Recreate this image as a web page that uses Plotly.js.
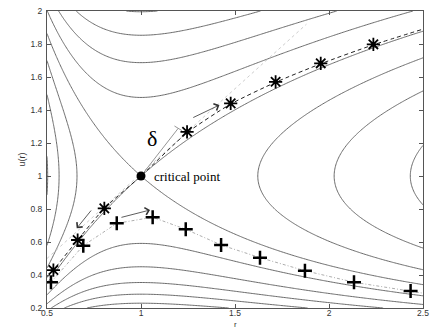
<!DOCTYPE html>
<html>
<head>
<meta charset="utf-8">
<script src="https://cdn.plot.ly/plotly-3.0.1.min.js"></script>
<style>
  html, body { margin: 0; padding: 0; background: #fff; }
  #chart { width: 431px; height: 330px; }
</style>
</head>
<body>
<div id="chart"></div>
<script>
// ---- data ----
// contour levels of the Parker-type integral F(r,u) = u^2 - ln(u^2) - 4 ln r - 4/r
const contourStart = -4.2;
const contourEnd = -0.6;
const contourStep = 0.4;

// asterisk (transonic) solution points
const starR = [0.534, 0.663, 0.805, 1.245, 1.477, 1.716, 1.956, 2.236];
const starU = [0.430, 0.612, 0.804, 1.268, 1.440, 1.571, 1.683, 1.798];

// dashed line through the asterisks
const dashR = [0.50, 0.534, 0.663, 0.805, 1.00, 1.245, 1.477, 1.716, 1.956, 2.236, 2.50];
const dashU = [0.385, 0.430, 0.612, 0.804, 1.00, 1.262, 1.436, 1.568, 1.680, 1.795, 1.890];

// plus-marker solution points (dash-dot line)
const plusR = [0.521, 0.693, 0.871, 1.062, 1.238, 1.426, 1.633, 1.872, 2.133, 2.434];
const plusU = [0.356, 0.578, 0.713, 0.750, 0.677, 0.582, 0.505, 0.426, 0.356, 0.303];
const plusLineR = [0.521, 0.693, 0.871, 1.062, 1.238, 1.426, 1.633, 1.872, 2.133, 2.434, 2.50];
const plusLineU = [0.356, 0.578, 0.713, 0.750, 0.677, 0.582, 0.505, 0.426, 0.356, 0.303, 0.290];

// dotted tangent line through the critical point
const tangentR = [0.50, 1.88];
const tangentU = [0.50, 1.92];

// delta segment and its end tick
const deltaR = [1.00, 1.198];
const deltaU = [1.00, 1.289];
const deltaTickR = [1.178, 1.218];
const deltaTickU = [1.303, 1.275];

// critical point
const critR = [1.0];
const critU = [1.0];

// arrows: tail and head positions
const arrowTailR = [1.270, 0.741, 0.888];
const arrowTailU = [1.350, 0.800, 0.747];
const arrowHeadR = [1.417, 0.658, 1.048];
const arrowHeadU = [1.430, 0.683, 0.794];

// labels
const deltaLabel = 'δ';
const deltaLabelPos = [1.057, 1.228];
const critLabel = 'critical point';
const critLabelPos = [1.06, 0.995];
const xTitle = 'r';
const yTitle = 'u(r)';

const xTicks = [0.5, 1, 1.5, 2, 2.5];
const yTicks = [0.2, 0.4, 0.6, 0.8, 1, 1.2, 1.4, 1.6, 1.8, 2];

// ---- contour field ----
function F(r, u) { return u * u - Math.log(u * u) - 4 * Math.log(r) - 4 / r; }
const nR = 241, nU = 217;
const rGrid = [], uGrid = [], zGrid = [];
for (let i = 0; i < nR; i++) rGrid.push(0.5 + 2.0 * i / (nR - 1));
for (let j = 0; j < nU; j++) uGrid.push(0.2 + 1.8 * j / (nU - 1));
for (let j = 0; j < nU; j++) {
  const row = [];
  for (let i = 0; i < nR; i++) row.push(F(rGrid[i], uGrid[j]));
  zGrid.push(row);
}

const traces = [
  {
    type: 'contour', x: rGrid, y: uGrid, z: zGrid,
    autocontour: false,
    contours: { coloring: 'lines', start: contourStart, end: contourEnd, size: contourStep, showlabels: false },
    colorscale: [[0, '#5a5a5a'], [1, '#5a5a5a']],
    line: { width: 0.9, smoothing: 1 },
    showscale: false, hoverinfo: 'skip'
  },
  { type: 'scatter', mode: 'lines', x: tangentR, y: tangentU,
    line: { color: '#c0c0c0', width: 0.8, dash: 'dot' }, hoverinfo: 'skip' },
  { type: 'scatter', mode: 'lines', x: deltaR, y: deltaU,
    line: { color: '#8a8a8a', width: 0.9 }, hoverinfo: 'skip' },
  { type: 'scatter', mode: 'lines', x: deltaTickR, y: deltaTickU,
    line: { color: '#8a8a8a', width: 0.9 }, hoverinfo: 'skip' },
  { type: 'scatter', mode: 'lines', x: plusLineR, y: plusLineU,
    line: { color: '#999', width: 0.8, dash: '3px,2px,1px,2px' }, hoverinfo: 'skip' },
  { type: 'scatter', mode: 'lines', x: dashR, y: dashU,
    line: { color: '#222', width: 1, dash: '4px,3px', shape: 'spline', smoothing: 0.6 }, hoverinfo: 'skip' },
  { type: 'scatter', mode: 'markers', x: starR, y: starU,
    marker: { symbol: 'asterisk-open', size: 11, color: '#000', line: { color: '#000', width: 1.8 } } },
  { type: 'scatter', mode: 'markers', x: plusR, y: plusU,
    marker: { symbol: 'cross-thin-open', size: 10, color: '#000', line: { color: '#000', width: 2.5 } } },
  { type: 'scatter', mode: 'markers', x: critR, y: critU,
    marker: { symbol: 'circle', size: 9, color: '#000' } }
];

const annotations = [];
for (let k = 0; k < arrowTailR.length; k++) {
  annotations.push({
    x: arrowHeadR[k], y: arrowHeadU[k], ax: arrowTailR[k], ay: arrowTailU[k],
    xref: 'x', yref: 'y', axref: 'x', ayref: 'y',
    text: '', showarrow: true, arrowhead: 4, arrowsize: 1.8, arrowwidth: 0.8, arrowcolor: '#333'
  });
}
annotations.push({
  x: deltaLabelPos[0], y: deltaLabelPos[1], xref: 'x', yref: 'y', text: deltaLabel,
  showarrow: false, font: { family: 'Liberation Serif, serif', size: 22, color: '#000' }
});
annotations.push({
  x: critLabelPos[0], y: critLabelPos[1], xref: 'x', yref: 'y', text: critLabel,
  xanchor: 'left', yanchor: 'middle',
  showarrow: false, font: { family: 'Liberation Serif, serif', size: 13, color: '#000' }
});
// x-axis title placed at the very bottom of the figure, below the tick labels
annotations.push({
  x: 1.5, y: 0, xref: 'x', yref: 'paper', yshift: -22, text: xTitle,
  xanchor: 'center', yanchor: 'bottom', borderpad: 0,
  showarrow: false, font: { family: 'Liberation Sans, Arial, sans-serif', size: 8, color: '#333' }
});

const axisCommon = {
  showgrid: false, zeroline: false, showline: true, mirror: 'ticks',
  linecolor: '#555', linewidth: 1, ticks: 'inside', ticklen: 4, tickcolor: '#555',
  tickfont: { family: 'Liberation Sans, Arial, sans-serif', size: 8.5, color: '#333' }
};

const layout = {
  width: 431, height: 330,
  margin: { l: 47, r: 8, t: 11, b: 22 },
  paper_bgcolor: '#fff', plot_bgcolor: '#fff',
  showlegend: false,
  xaxis: Object.assign({}, axisCommon, {
    range: [0.5, 2.5], tickvals: xTicks, ticktext: xTicks.map(String),
    ticklabelstandoff: -3
  }),
  yaxis: Object.assign({}, axisCommon, {
    range: [0.2, 2], tickvals: yTicks, ticktext: yTicks.map(String),
    ticklabelstandoff: 2,
    title: { text: yTitle, font: { family: 'Liberation Sans, Arial, sans-serif', size: 9, color: '#333' }, standoff: 3 }
  }),
  annotations: annotations
};

Plotly.newPlot('chart', traces, layout, { displayModeBar: false, staticPlot: true });
</script>
</body>
</html>
